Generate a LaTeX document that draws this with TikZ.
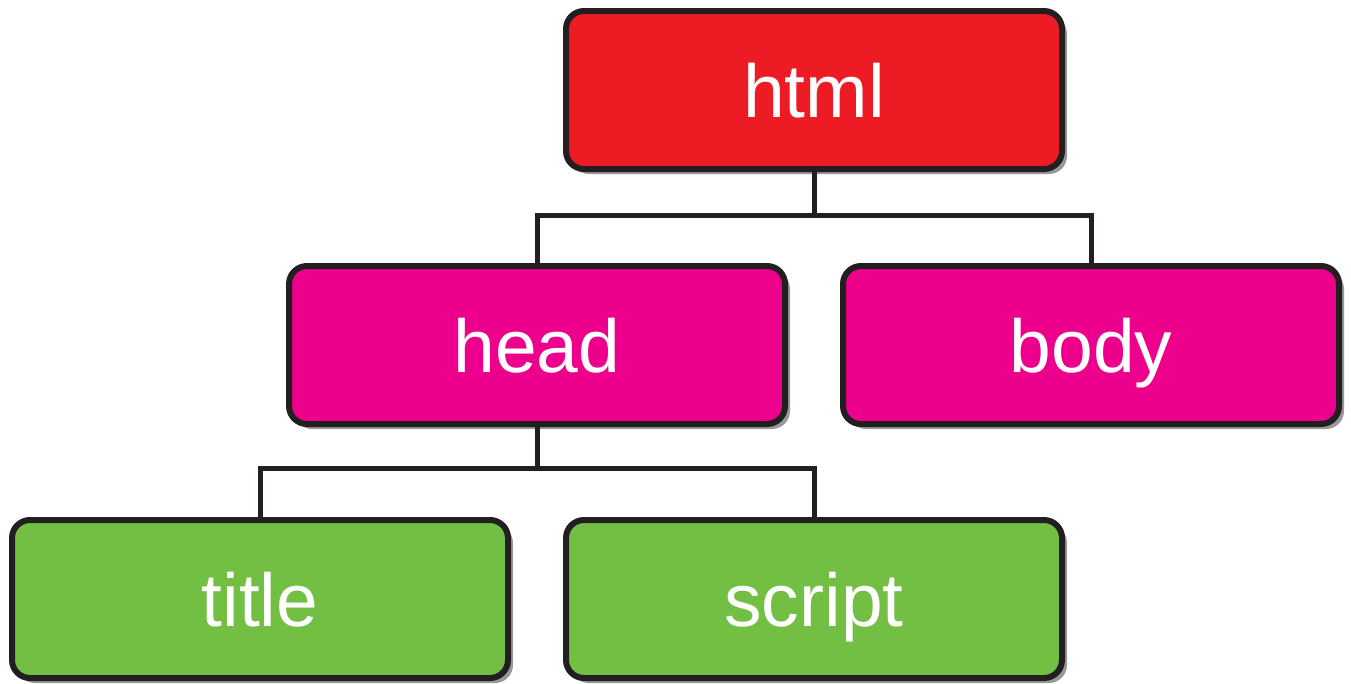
\documentclass[tikz,border=0pt]{standalone}
\usepackage{fontspec}
\setmainfont{Liberation Sans}
\usetikzlibrary{shadows}
\definecolor{htmlred}{HTML}{ED1C24}
\definecolor{magent}{HTML}{EC008C}
\definecolor{grn}{HTML}{72BF44}
\definecolor{ink}{HTML}{231F20}
\definecolor{shad}{HTML}{98989A}
\begin{document}
\begin{tikzpicture}[x=1pt,y=-1pt,
  box/.style={draw=ink, line width=6pt, rounded corners=18pt, minimum width=496pt, minimum height=158pt, inner sep=0pt,
    text=white, font=\fontsize{75}{80}\selectfont, text height=55pt, text depth=0pt,
    drop shadow={shadow xshift=5pt, shadow yshift=-5pt, fill=shad, opacity=1}},
  conn/.style={draw=ink, line width=5pt}]
\useasboundingbox (0,0) rectangle (1351,683);
\node[box, fill=htmlred] (html) at (814,90) {html};
\node[box, fill=magent] (head) at (537,345) {head};
\node[box, fill=magent] (body) at (1091,345) {body};
\node[box, fill=grn] (title) at (260,599) {title};
\node[box, fill=grn] (script) at (814,599) {script};
\coordinate (j1) at (814,215);
\coordinate (j2) at (537,468);
\draw[conn] (html.south) -- (j1) -| (head.north);
\draw[conn] (j1) -| (body.north);
\draw[conn] (head.south) -- (j2) -| (title.north);
\draw[conn] (j2) -| (script.north);
\end{tikzpicture}
\end{document}
